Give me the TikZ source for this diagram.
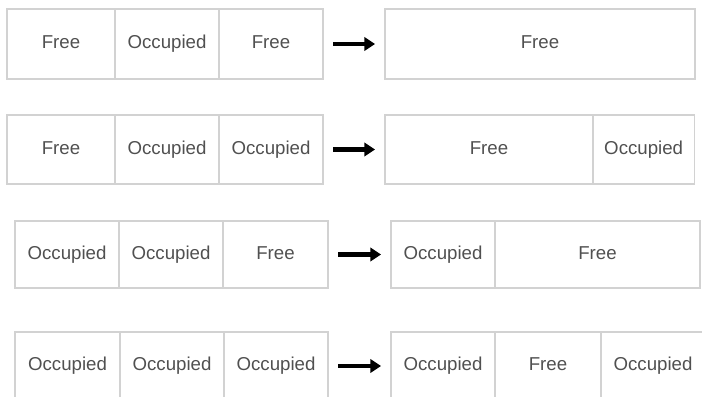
\documentclass[tikz,border=0pt]{standalone}
\usepackage{fontspec}
\setmainfont{Liberation Sans}
\usetikzlibrary{positioning,arrows.meta}

\definecolor{cellline}{RGB}{210,210,210}
\definecolor{celltext}{RGB}{80,80,80}

\tikzset{
  cell/.style={draw=cellline, line width=0.9pt, inner sep=0pt, outer sep=0pt,
    text=celltext, font=\fontsize{14}{16}\selectfont,
    text height=10pt, text depth=3pt},
  merge/.style={-{Triangle[length=8pt,width=10pt]}, line width=3.2pt,
    shorten <=7.5pt, shorten >=7.5pt},
}

\begin{document}
\begin{tikzpicture}[x=0.75pt,y=0.75pt,yscale=-1,xscale=1]
\useasboundingbox (0,0) rectangle (702,396);

%Row 1: free, occupied, free
\node[cell, minimum height=52.5pt, minimum width=81pt, anchor=north west] (fa1) at (7,9) {Free};
\node[cell, minimum height=52.5pt, minimum width=78pt, right=0pt of fa1] (fa2) {Occupied};
\node[cell, minimum height=52.5pt, minimum width=78pt, right=0pt of fa2] (fa3) {Free};
\node[cell, minimum height=52.5pt, minimum width=232.5pt, anchor=north west] (fb1) at (385,9) {Free};
\draw[merge] (fa3.east) -- (fb1.west);

%Row 2: free, occupied, occupied
\node[cell, minimum height=51.75pt, minimum width=81pt, anchor=north west] (sa1) at (7,115) {Free};
\node[cell, minimum height=51.75pt, minimum width=78pt, right=0pt of sa1] (sa2) {Occupied};
\node[cell, minimum height=51.75pt, minimum width=78pt, right=0pt of sa2] (sa3) {Occupied};
\node[cell, minimum height=51.75pt, minimum width=156pt, anchor=north west] (sb1) at (385,115) {Free};
\node[cell, minimum height=51.75pt, minimum width=76pt, right=0pt of sb1] (sb2) {Occupied};
\draw[merge] (sa3.east) -- (sb1.west);

%Row 3: occupied, occupied, free
\node[cell, minimum height=50.25pt, minimum width=78pt, anchor=north west] (ta1) at (15,221) {Occupied};
\node[cell, minimum height=50.25pt, minimum width=78pt, right=0pt of ta1] (ta2) {Occupied};
\node[cell, minimum height=50.25pt, minimum width=78.75pt, right=0pt of ta2] (ta3) {Free};
\node[cell, minimum height=50.25pt, minimum width=78pt, anchor=north west] (tb1) at (391,221) {Occupied};
\node[cell, minimum height=50.25pt, minimum width=153.75pt, right=0pt of tb1] (tb2) {Free};
\draw[merge] (ta3.east) -- (tb1.west);

%Row 4: occupied, occupied, occupied
\node[cell, minimum height=51pt, minimum width=78.75pt, anchor=north west] (ua1) at (15,332) {Occupied};
\node[cell, minimum height=51pt, minimum width=78pt, right=0pt of ua1] (ua2) {Occupied};
\node[cell, minimum height=51pt, minimum width=78pt, right=0pt of ua2] (ua3) {Occupied};
\node[cell, minimum height=51pt, minimum width=78pt, anchor=north west] (ub1) at (391,332) {Occupied};
\node[cell, minimum height=51pt, minimum width=79.5pt, right=0pt of ub1] (ub2) {Free};
\node[cell, minimum height=51pt, minimum width=78pt, right=0pt of ub2] (ub3) {Occupied};
\draw[merge] (ua3.east) -- (ub1.west);
\end{tikzpicture}
\end{document}
